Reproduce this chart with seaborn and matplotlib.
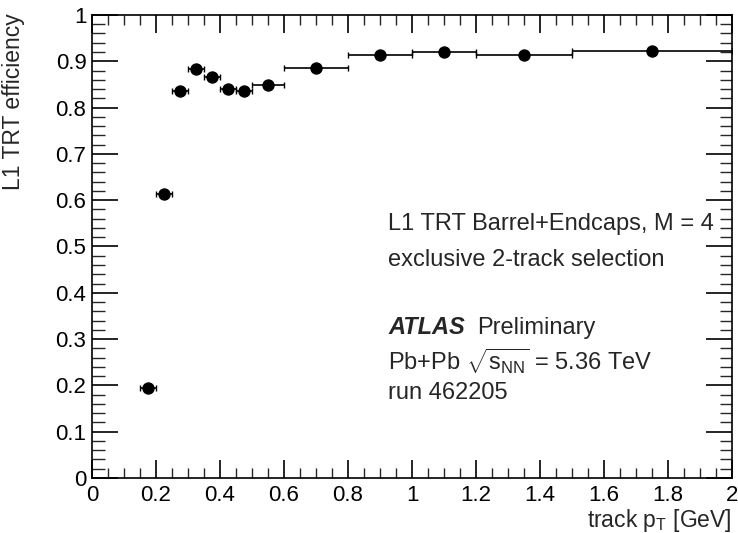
import matplotlib
matplotlib.use("Agg")
import matplotlib.pyplot as plt
import seaborn as sns
import pandas as pd
import numpy as np
from matplotlib.ticker import MultipleLocator

bin_lo = [0.15, 0.20, 0.25, 0.30, 0.35, 0.40, 0.45, 0.50, 0.60, 0.80, 1.00, 1.20, 1.50]
bin_hi = [0.20, 0.25, 0.30, 0.35, 0.40, 0.45, 0.50, 0.60, 0.80, 1.00, 1.20, 1.50, 2.00]
efficiency = [0.195, 0.614, 0.835, 0.883, 0.866, 0.840, 0.836, 0.848, 0.886, 0.914, 0.920, 0.913, 0.922]
x_ticklabels = ["0", "0.2", "0.4", "0.6", "0.8", "1", "1.2", "1.4", "1.6", "1.8", "2"]
y_ticklabels = ["0", "0.1", "0.2", "0.3", "0.4", "0.5", "0.6", "0.7", "0.8", "0.9", "1"]

df = pd.DataFrame({"lo": bin_lo, "hi": bin_hi, "eff": efficiency})
df["pt"] = (df["lo"] + df["hi"]) / 2
df["xerr"] = (df["hi"] - df["lo"]) / 2

sns.set_theme(style="ticks")
plt.rcParams["font.family"] = ["Liberation Sans", "DejaVu Sans"]
plt.rcParams["mathtext.fontset"] = "custom"
plt.rcParams["mathtext.rm"] = "Liberation Sans"
plt.rcParams["mathtext.it"] = "Liberation Sans:italic"

fig = plt.figure(figsize=(7.38, 5.33), dpi=100)
ax = fig.add_axes([0.1247, 0.1032, 0.8672, 0.8687])

ax.errorbar(df["pt"], df["eff"], xerr=df["xerr"], fmt="none", ecolor="black",
            elinewidth=1.2, capsize=2, capthick=1.0)
sns.scatterplot(data=df, x="pt", y="eff", ax=ax, color="black", s=80,
                edgecolor="black", linewidth=0, zorder=5, legend=False)

ax.set_xlim(0, 2)
ax.set_ylim(0, 1)
ax.xaxis.set_minor_locator(MultipleLocator(0.05))
ax.yaxis.set_minor_locator(MultipleLocator(0.02))
ax.set_xticks(np.arange(0, 2.01, 0.2))
ax.set_xticklabels(x_ticklabels)
ax.set_yticks(np.arange(0, 1.01, 0.1))
ax.set_yticklabels(y_ticklabels)

ax.tick_params(axis="x", which="major", direction="in", length=13, width=1.2,
               top=True, bottom=True, labelsize=16, pad=5, colors="black")
ax.tick_params(axis="x", which="minor", direction="in", length=7, width=1.0,
               top=True, bottom=True)
ax.tick_params(axis="y", which="major", direction="in", length=19, width=1.2,
               left=True, right=True, labelsize=16, pad=4, colors="black")
ax.tick_params(axis="y", which="minor", direction="in", length=9, width=1.0,
               left=True, right=True)
for sp in ax.spines.values():
    sp.set_visible(True)
    sp.set_linewidth(1.2)
    sp.set_color("black")

ax.set_xlabel(r"track p$_{\rm T}$ [GeV]", fontsize=16.5, loc="right", labelpad=1)
ax.set_ylabel("L1 TRT efficiency", fontsize=16.5, loc="top")
ax.yaxis.set_label_coords(-0.105, 1.004)

fs = 17
x0 = 0.925
ax.text(x0, 0.549, "L1 TRT Barrel+Endcaps, M = 4", fontsize=fs, va="center")
ax.text(x0, 0.471, "exclusive 2-track selection", fontsize=fs, va="center")
ax.text(x0, 0.324, "ATLAS", fontsize=fs, va="center", fontweight="bold", style="italic")
ax.text(1.203, 0.324, "Preliminary", fontsize=fs, va="center")
ax.text(x0, 0.251, r"Pb+Pb $\sqrt{\mathrm{s}_{\rm NN}}$ = 5.36 TeV", fontsize=fs, va="center")
ax.text(x0, 0.184, "run 462205", fontsize=fs, va="center")

fig.savefig("out.png", dpi=100)
